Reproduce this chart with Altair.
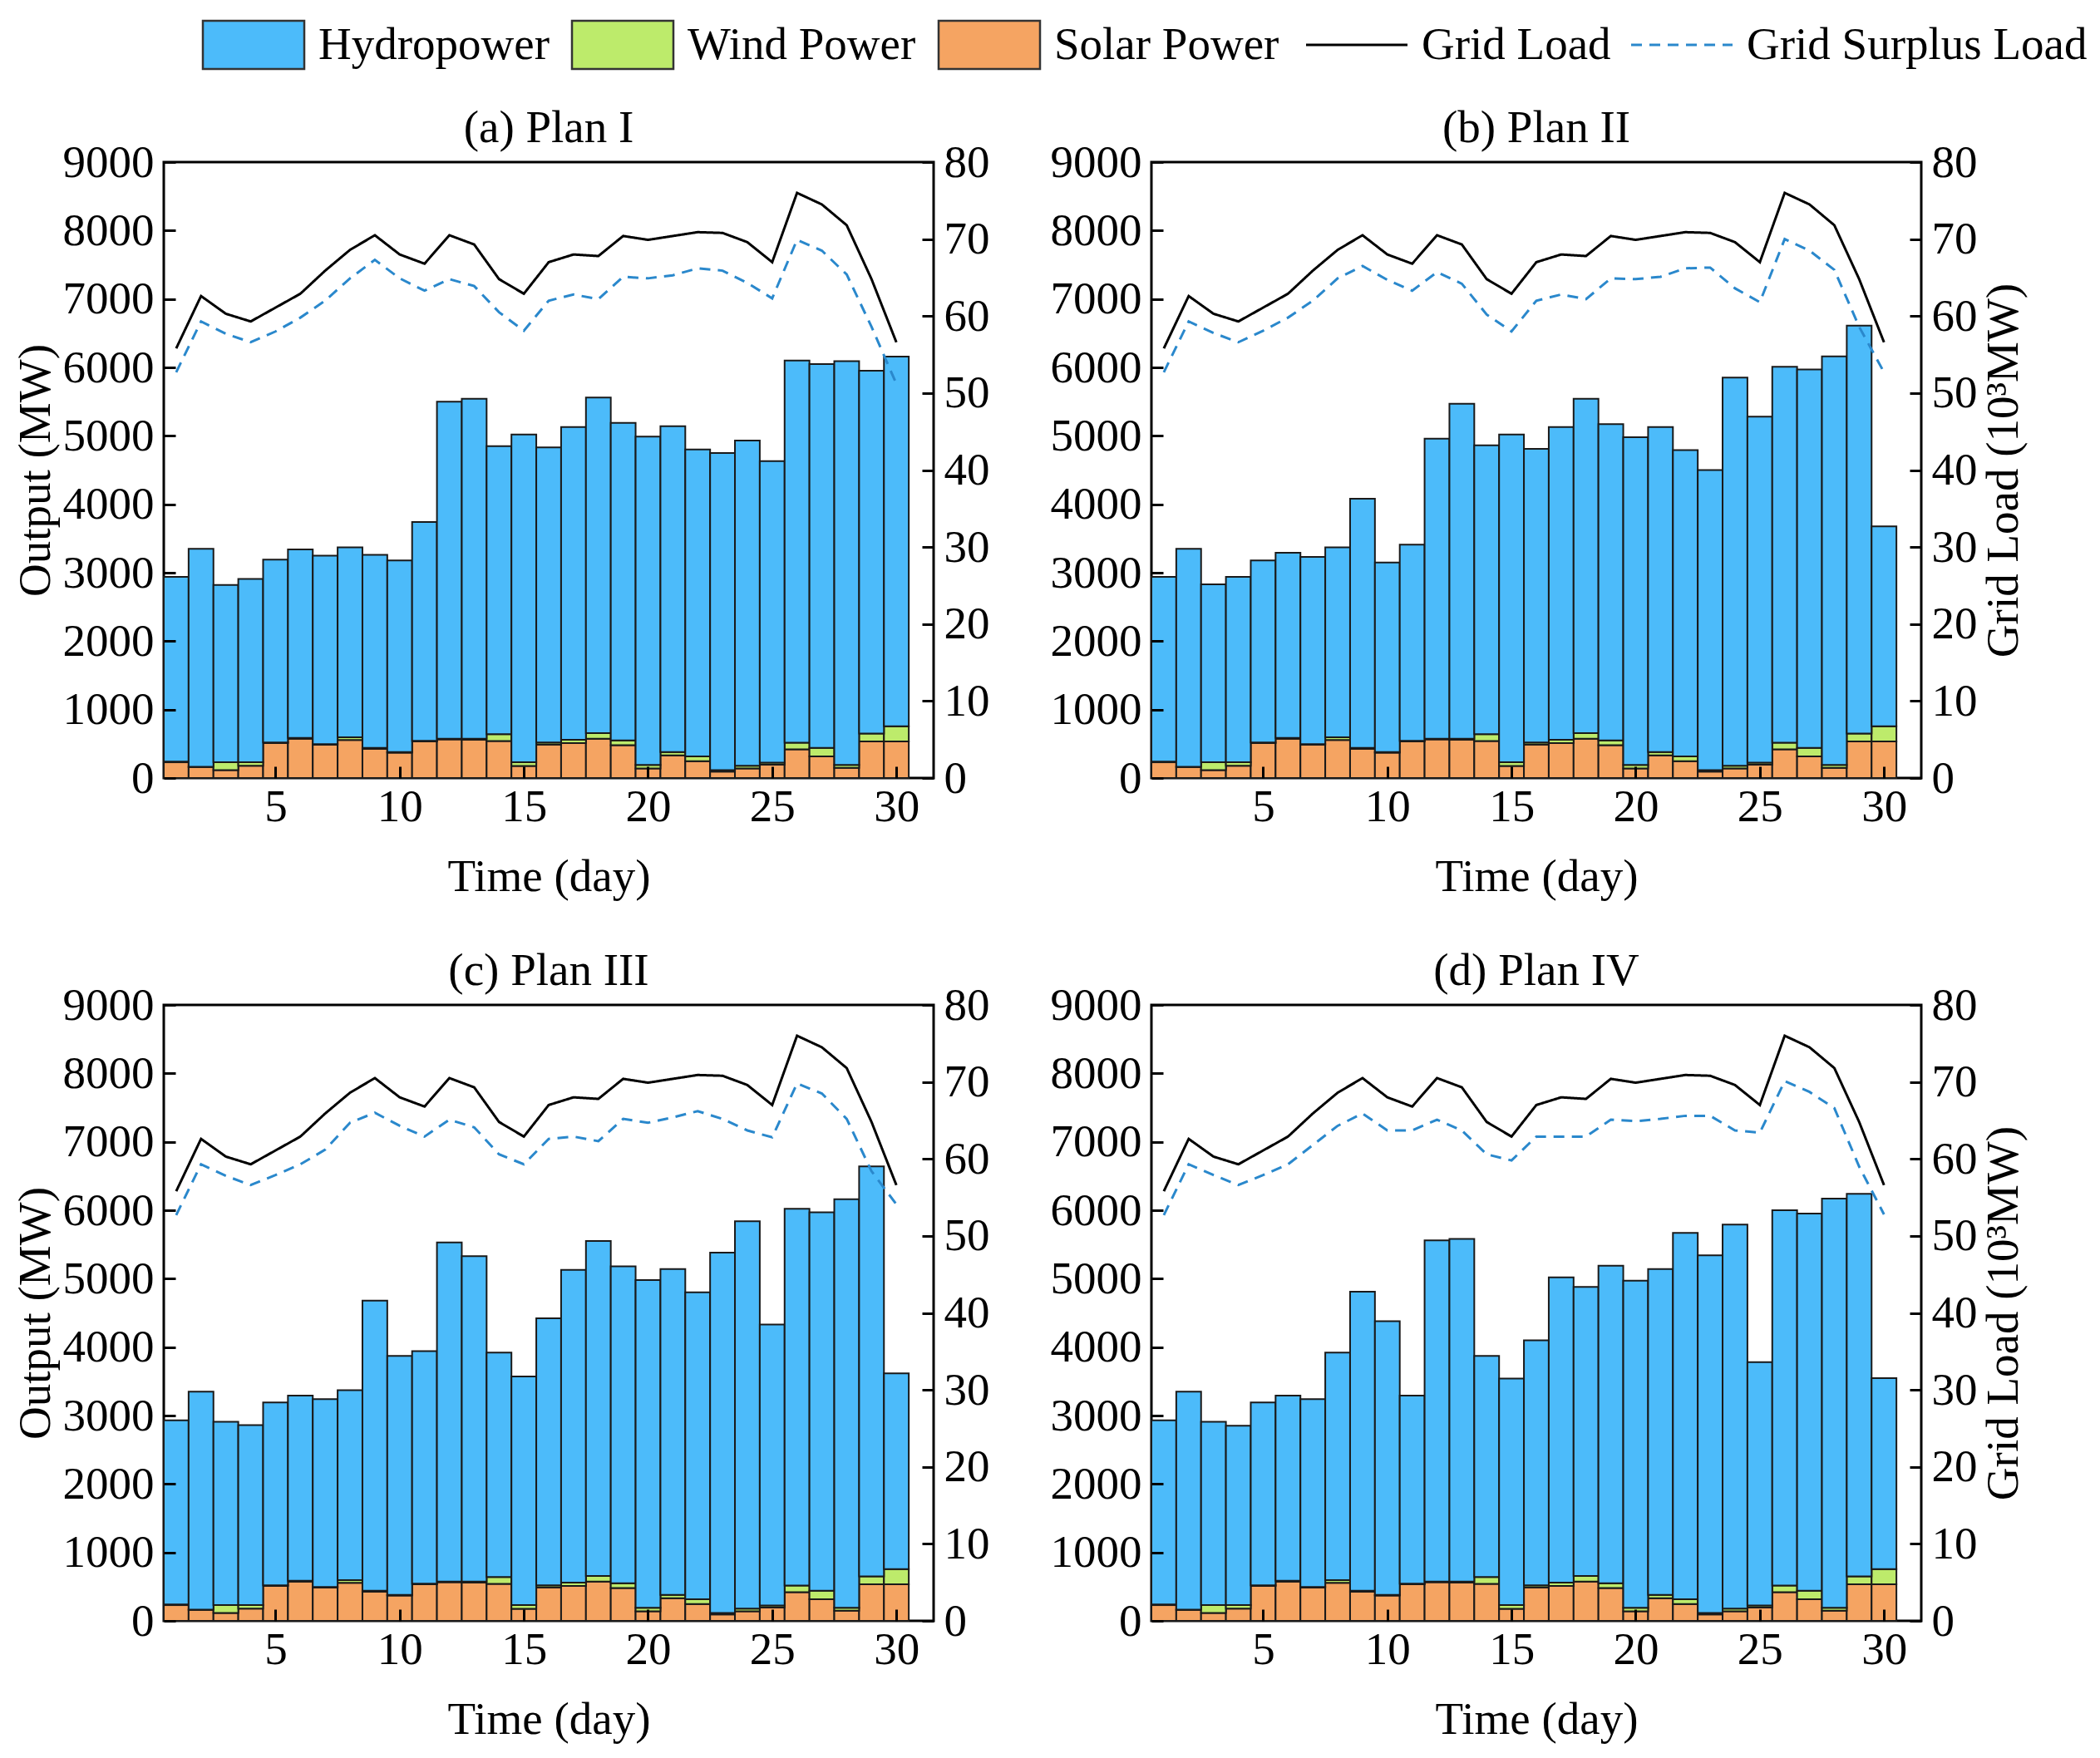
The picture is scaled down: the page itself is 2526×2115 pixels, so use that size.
import altair as alt
import pandas as pd

DAYS = list(range(1, 31))

SOLAR = [230, 160, 115, 180, 510, 575, 485, 555, 425, 370, 535, 565, 560, 540, 175,
         490, 510, 575, 480, 140, 330, 245, 95, 140, 195, 420, 315, 150, 535, 535]
WIND = [10, 5, 115, 50, 10, 10, 10, 40, 15, 10, 10, 10, 15, 100, 55,
        30, 50, 80, 70, 50, 50, 70, 20, 40, 30, 95, 125, 40, 115, 222]

HYDRO_I = [2700, 3185, 2590, 2680, 2670, 2755, 2755, 2775, 2820, 2800, 3195, 4925, 4965, 4210, 4790,
           4310, 4570, 4905, 4640, 4800, 4760, 4485, 4635, 4750, 4405, 5585, 5610, 5900, 5300, 5400]
HYDRO_II = [2700, 3185, 2600, 2710, 2660, 2705, 2735, 2775, 3640, 2770, 2865, 4385, 4895, 4220, 4790,
            4290, 4570, 4885, 4620, 4790, 4750, 4475, 4385, 5670, 5055, 5495, 5530, 5970, 5960, 2920]
HYDRO_III = [2690, 3185, 2680, 2630, 2670, 2705, 2745, 2775, 4240, 3490, 3395, 4955, 4755, 3280, 3340,
             3900, 4570, 4895, 4630, 4790, 4760, 4485, 5265, 5660, 4105, 5505, 5530, 5970, 5990, 2860]
HYDRO_IV = [2690, 3185, 2680, 2620, 2670, 2705, 2745, 3325, 4370, 4000, 2745, 4985, 5005, 3230, 3310,
            3580, 4460, 4225, 4640, 4780, 4760, 5355, 5225, 5610, 3555, 5485, 5510, 5980, 5590, 2790]

GRID_LOAD = [55.8, 62.6, 60.3, 59.3, 61.1, 62.9, 65.9, 68.6, 70.5, 68.0, 66.8, 70.5, 69.3, 64.8, 62.9,
             67.0, 68.0, 67.8, 70.4, 69.9, 70.4, 70.9, 70.8, 69.6, 67.0, 76.0, 74.5, 71.8, 64.8, 56.6]
SURPLUS_I = [52.7, 59.3, 57.7, 56.6, 58.0, 59.8, 62.0, 64.9, 67.3, 64.9, 63.3, 64.8, 63.9, 60.5, 58.1,
             62.0, 62.8, 62.2, 65.1, 64.9, 65.3, 66.2, 65.9, 64.3, 62.3, 69.9, 68.5, 65.4, 58.6, 51.2]
SURPLUS_II = [52.7, 59.3, 57.8, 56.6, 58.1, 59.8, 62.0, 64.9, 66.5, 64.7, 63.3, 65.7, 64.2, 60.2, 58.0,
              62.0, 62.8, 62.2, 64.9, 64.8, 65.1, 66.2, 66.3, 63.6, 61.8, 70.0, 68.5, 66.0, 58.6, 52.7]
SURPLUS_III = [52.7, 59.3, 57.8, 56.6, 57.9, 59.3, 61.2, 64.7, 66.0, 64.3, 62.9, 65.1, 64.1, 60.6, 59.3,
               62.6, 62.9, 62.3, 65.2, 64.7, 65.4, 66.2, 65.2, 63.7, 62.8, 69.8, 68.5, 65.2, 58.4, 54.1]
SURPLUS_IV = [52.7, 59.3, 57.9, 56.6, 57.9, 59.3, 61.8, 64.3, 65.9, 63.7, 63.7, 65.1, 63.7, 60.6, 59.8,
              62.9, 62.9, 62.9, 65.1, 64.9, 65.2, 65.6, 65.6, 63.7, 63.4, 70.1, 68.7, 66.6, 59.0, 52.8]

PANEL_TITLES = ["(a) Plan I", "(b) Plan II", "(c) Plan III", "(d) Plan IV"]
HYDRO = [HYDRO_I, HYDRO_II, HYDRO_III, HYDRO_IV]
SURPLUS = [SURPLUS_I, SURPLUS_II, SURPLUS_III, SURPLUS_IV]

SOURCES = ["Hydropower", "Wind Power", "Solar Power"]
SOURCE_COLORS = ["#4CBBFA", "#BDEB6B", "#F5A462"]
LINES = ["Grid Load", "Grid Surplus Load"]
LINE_COLORS = ["#000000", "#2A88CC"]
LINE_DASHES = [[1, 0], [13, 9]]

X_TICKS = [5, 10, 15, 20, 25, 30]
Y_LEFT_TICKS = list(range(0, 9001, 1000))
Y_RIGHT_TICKS = list(range(0, 81, 10))

FONT = "Liberation Serif"
FS = 55
W, H = 926, 741
TICK = 14
# legend swatches: drawn twice as wide as the symbol cell so the cell stays short
RECT = "M-2,-0.95L2,-0.95L2,0.95L-2,0.95Z"
STROKE = "M-2,0L2,0"
SYM = 61
LEG_Y = -173

common_legend = dict(
    title=None, orient="none", legendY=LEG_Y, direction="horizontal",
    padding=0, symbolSize=SYM * SYM, symbolOpacity=1,
    labelFont=FONT, labelFontSize=FS, labelColor="black", labelOffset=46,
    labelLimit=2000,
)
fill_legend = alt.Legend(legendX=76, columns=3, symbolType=RECT, columnPadding=22,
                         symbolStrokeColor="#333333", symbolStrokeWidth=2.5, **common_legend)
line_legend = alt.Legend(legendX=1403, columns=2, symbolType=STROKE, columnPadding=18,
                         symbolStrokeWidth=3, symbolFillColor="transparent", **common_legend)

fill_scale = alt.Scale(domain=SOURCES, range=SOURCE_COLORS)
stroke_scale = alt.Scale(domain=LINES, range=LINE_COLORS)
dash_scale = alt.Scale(domain=LINES, range=LINE_DASHES)
xscale = alt.Scale(domain=[0.5, 31.5], nice=False, zero=False)

# inward ticks: the axis line is pulled into the plot by TICK px and ticks reach back to the frame
tick_style = dict(grid=False, domain=False, ticks=True, tickSize=TICK, offset=-TICK,
                  tickColor="black", tickWidth=3, format="d", zindex=1)


def panel(idx):
    hydro = HYDRO[idx]
    bars = pd.DataFrame({
        "day": DAYS * 3,
        "key": ["Solar Power"] * 30 + ["Wind Power"] * 30 + ["Hydropower"] * 30,
        "ord": [0] * 30 + [1] * 30 + [2] * 30,
        "value": SOLAR + WIND + hydro,
    })
    lines = pd.DataFrame({
        "day": DAYS * 2,
        "key": ["Grid Load"] * 30 + ["Grid Surplus Load"] * 30,
        "value": GRID_LOAD + SURPLUS[idx],
    })
    left_title = "Output (MW)" if idx in (0, 2) else None
    right_title = "Grid Load (10³MW)" if idx in (1, 3) else None

    xaxis = alt.Axis(values=X_TICKS, title="Time (day)", labelPadding=8, titlePadding=30,
                     **tick_style)

    bar_layer = alt.Chart(bars).transform_stack(
        stack="value", groupby=["day"], as_=["y0", "y1"],
        sort=[alt.SortField("ord", order="ascending")],
    ).transform_calculate(
        xa="datum.day - 0.5", xb="datum.day + 0.5"
    ).mark_bar(stroke="#1a1a1a", strokeWidth=2, opacity=1).encode(
        x=alt.X("xa:Q", scale=xscale, axis=xaxis),
        x2="xb:Q",
        y=alt.Y("y0:Q", scale=alt.Scale(domain=[0, 9000], nice=False),
                axis=alt.Axis(orient="left", values=Y_LEFT_TICKS, title=left_title,
                              labelPadding=12, titlePadding=4, **tick_style)),
        y2="y1:Q",
        fill=alt.Fill("key:N", scale=fill_scale, legend=fill_legend),
    )

    line_layer = alt.Chart(lines).mark_line(strokeWidth=3).encode(
        x=alt.X("day:Q", scale=xscale),
        y=alt.Y("value:Q", scale=alt.Scale(domain=[0, 80], nice=False),
                axis=alt.Axis(orient="right", values=Y_RIGHT_TICKS, title=right_title,
                              labelPadding=12, titlePadding=5, titleAngle=270,
                              titleBaseline="top", **tick_style)),
        stroke=alt.Stroke("key:N", scale=stroke_scale, legend=line_legend),
        strokeDash=alt.StrokeDash("key:N", scale=dash_scale, legend=line_legend),
    )

    return alt.layer(bar_layer, line_layer).resolve_scale(y="independent").properties(
        width=W, height=H,
        title=alt.TitleParams(PANEL_TITLES[idx], font=FONT, fontSize=FS, fontWeight="normal",
                              color="black", baseline="alphabetic", offset=-58, frame="group"),
    )


row1 = alt.hconcat(panel(0), panel(1), spacing=69)
row2 = alt.hconcat(panel(2), panel(3), spacing=69)
chart = alt.vconcat(row1, row2, spacing=55).properties(
    padding={"left": 5, "top": 14, "right": 0, "bottom": 5}
).configure(font=FONT).configure_view(
    stroke="black", strokeWidth=3
).configure_axis(
    labelFont=FONT, labelFontSize=FS, labelColor="black",
    titleFont=FONT, titleFontSize=FS, titleFontWeight="normal", titleColor="black",
    labelLimit=500,
)

chart.save("out.html", embed_options={"renderer": "svg", "actions": False})
